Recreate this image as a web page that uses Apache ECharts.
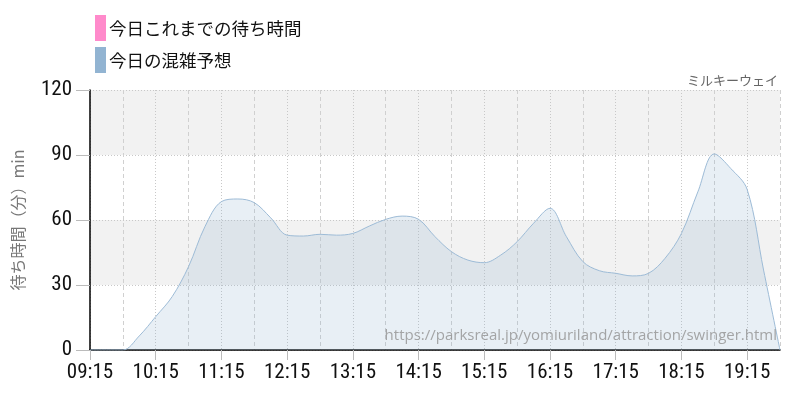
<!DOCTYPE html>
<html><head><meta charset="utf-8">
<script src="https://cdn.jsdelivr.net/npm/echarts@6/dist/echarts.min.js"></script>
<style>html,body{margin:0;padding:0;background:#fff}#c{width:800px;height:400px}</style>
</head><body><div id="c"></div>
<script>
const times = ['09:15','09:30','09:45','10:00','10:15','10:30','10:45','11:00','11:15','11:30','11:45','12:00','12:15','12:30','12:45','13:00','13:15','13:30','13:45','14:00','14:15','14:30','14:45','15:00','15:15','15:30','15:45','16:00','16:15','16:30','16:45','17:00','17:15','17:30','17:45','18:00','18:15','18:30','18:45','19:00','19:15','19:30','19:45'];
const forecast = [0,0,0,6.5,15.4,24.6,38.5,57,68.5,69.7,68,61,53,52.6,53.4,53,53.8,57.2,60.3,61.8,60.3,52.3,45.4,41.5,40.3,43.8,50,58.5,65.4,52.3,40.8,36.6,35.4,34.2,35.4,42.3,53.8,73,90.5,83.8,74.1,36.9,0];
const actual = [];
const yTicks = [0,30,60,90,120];
const seriesNames = ['今日これまでの待ち時間','今日の混雑予想'];
const attractionName = 'ミルキーウェイ';
const sourceUrl = 'https://parksreal.jp/yomiuriland/attraction/swinger.html';
const yName = '待ち時間（分）min';

const numFont = "'Roboto Condensed','Liberation Sans Narrow','Roboto',sans-serif";
const jpFont = "'Noto Sans CJK JP',sans-serif";
const chart = echarts.init(document.getElementById('c'), null, {renderer:'canvas'});
chart.setOption({
  animation:false,
  title:{text:attractionName,right:17,top:69,textStyle:{fontFamily:jpFont,fontSize:13,fontWeight:'normal',color:'#666'}},
  legend:{orient:'vertical',left:90,top:10,itemWidth:11,itemHeight:26,itemGap:6,icon:'rect',
    textStyle:{fontFamily:jpFont,fontSize:17.5,color:'#111',padding:[0,0,0,-2]},
    data:seriesNames},
  grid:{left:90,right:20,top:90,bottom:50},
  xAxis:[{
    type:'category',data:times,boundaryGap:false,
    axisLine:{lineStyle:{color:'#000',width:1.5}},
    axisTick:{interval:3,length:10,lineStyle:{color:'#bbb'}},
    axisLabel:{interval:3,fontFamily:numFont,fontSize:21,color:'#111',margin:12},
    splitLine:{show:true,interval:3,lineStyle:{color:'#c8c8c8',type:[1,2]}}
  },{
    type:'category',data:times,boundaryGap:false,position:'bottom',
    axisLine:{show:false},axisTick:{show:false},axisLabel:{show:false},
    splitLine:{show:true,interval:function(i){return i%4===2;},lineStyle:{color:'#d0d0d0',type:[4,3]}}
  }],
  yAxis:{type:'value',min:0,max:120,interval:30,
    name:yName,nameLocation:'middle',nameGap:64,nameRotate:90,
    nameTextStyle:{fontFamily:jpFont,fontSize:16,color:'#777'},
    axisLine:{show:true,lineStyle:{color:'#000',width:1.5}},
    axisTick:{show:true,length:14,lineStyle:{color:'#bbb'}},
    axisLabel:{fontFamily:numFont,fontSize:21,color:'#111',margin:18,
      formatter:function(v){return yTicks.indexOf(v)>=0?String(v):'';}},
    splitLine:{lineStyle:{color:'#c8c8c8',type:[1,2]}},
    splitArea:{show:true,areaStyle:{color:['#ffffff','#f2f2f2']}}
  },
  graphic:[{type:'text',right:23,top:328,z:10,style:{text:sourceUrl,fontFamily:"'Open Sans','Noto Sans',sans-serif",fontSize:15,fill:'rgba(150,150,150,0.85)'}}],
  series:[
    {name:seriesNames[0],type:'line',data:actual,color:'#ff8acb',symbol:'none'},
    {name:seriesNames[1],type:'line',data:forecast,color:'#92b4d2',smooth:0.35,symbol:'none',
      lineStyle:{color:'#9dbbd6',width:1},
      areaStyle:{color:'rgba(146,180,210,0.3)'}}
  ]
});
</script></body></html>
